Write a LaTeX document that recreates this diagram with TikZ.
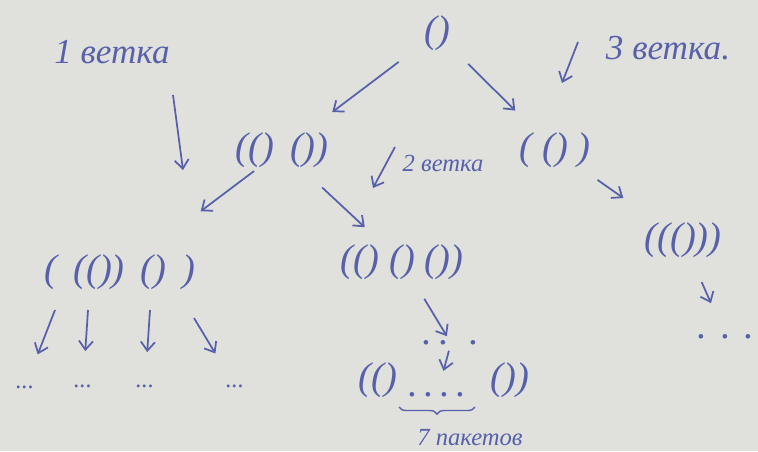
\documentclass[tikz,border=0pt]{standalone}
\usepackage{fontspec}
\setmainfont{Liberation Serif}
\usetikzlibrary{arrows.meta,decorations.pathreplacing}
\definecolor{ink}{RGB}{88,96,170}
\definecolor{paper}{RGB}{224,225,221}
\tikzset{
  every node/.style={text=ink,font=\itshape},
  br/.style={font=\fontsize{22}{24}\selectfont\itshape},
  dt/.style={font=\fontsize{14}{16}\selectfont\itshape},
  arr/.style={->,draw=ink,line width=1pt,>={Straight Barb[length=5pt,width=8pt]}},
}

\begin{document}
\begin{tikzpicture}
    \def\x{0.02}
    \def\y{-0.02}
    \useasboundingbox (0,0) rectangle (758*\x,451*\y);
    \fill[paper] (0,0) rectangle (758*\x,451*\y);
    \node[br] (A0_0) at (437*\x, 33*\y) {()};
    \node[br] (A1_1) at (282*\x, 150*\y) {(() \,())};
    \node[br] (A1_2) at (555*\x, 150*\y) {( () )};
    \node[br] (A2_1) at (120*\x, 272*\y) {( \,(()) \,() \,)};
    \node[br] (A2_2) at (402*\x, 262*\y) {(() () ())};
    \node[br] (A2_3) at (683*\x, 240*\y) {((()))};
    \node[dt] (A3_1) at (25*\x, 387*\y) {...};
    \node[dt] (A3_2) at (83*\x, 386*\y) {...};
    \node[dt] (A3_3) at (145*\x, 386*\y) {...};
    \node[dt] (A3_4) at (235*\x, 386*\y) {...};
    \node[br] (A3_5) at (451*\x, 343*\y) {.\hspace{4pt}.\hspace{12pt}.};
    \node[br] (A3_6) at (726*\x, 337*\y) {.\hspace{8pt}.\hspace{8pt}.};
    \node[br] (A4_1) at (378*\x, 380*\y) {(()};
    \node[br,minimum width=75*0.02cm] (A4_2) at (437*\x, 395*\y) {.\,.\,.\,.};
    \node[br] (A4_3) at (510*\x, 380*\y) {())};
    \node[font=\fontsize{14}{16}\selectfont\itshape] (A5_1) at (470*\x, 438*\y) {7 пакетов};
    % branch labels
    \node[font=\fontsize{20}{22}\selectfont\itshape] (L1) at (112*\x, 52*\y) {1 ветка};
    \node[font=\fontsize{14}{16}\selectfont\itshape] (L2) at (443*\x, 163*\y) {2 ветка};
    \node[font=\fontsize{20}{22}\selectfont\itshape] (L3) at (668*\x, 48*\y) {3 ветка.};
    \coordinate (C1_0) at (173*\x, 95*\y);
    \coordinate (C1_1) at (183*\x, 170*\y);
    \coordinate (C2_0) at (395*\x, 147*\y);
    \coordinate (C2_1) at (373*\x, 188*\y);
    \coordinate (C3_0) at (578*\x, 42*\y);
    \coordinate (C3_1) at (562*\x, 83*\y);
    \coordinate (T1) at (55*\x, 310*\y);
    \coordinate (T2) at (88*\x, 310*\y);
    \coordinate (T3) at (150*\x, 310*\y);
    \coordinate (T4) at (194*\x, 318*\y);
    \path (A0_0.center) edge [arr,shorten <=0.96cm,shorten >=1.26cm] (A1_1.center);
    \path (A0_0.center) edge [arr,shorten <=0.88cm,shorten >=1.12cm] (A1_2.center);
    \path (A1_1.center) edge [arr,shorten <=0.7cm,shorten >=2.02cm] (A2_1.center);
    \path (A1_1.center) edge [arr,shorten <=1.1cm,shorten >=1.02cm] (A2_2.center);
    \path (A1_2.center) edge [arr,shorten <=1.04cm,shorten >=1.46cm] (A2_3.center);
    \path (A2_3.center) edge [arr,shorten <=0.92cm,shorten >=0.74cm] (A3_6.center);
    \path (A2_2.center) edge [arr,shorten <=0.86cm,shorten >=0.16cm] (A3_5.center);
    \path (A3_5.center) edge [arr,shorten <=0.16cm,shorten >=0.5cm] (A4_2.center);
    \path (T1) edge [arr,shorten >=0.7cm] (A3_1.center);
    \path (T2) edge [arr,shorten >=0.7cm] (A3_2.center);
    \path (T3) edge [arr,shorten >=0.68cm] (A3_3.center);
    \path (T4) edge [arr,shorten >=0.76cm] (A3_4.center);
    \path (C1_0) edge [arr] (C1_1);
    \path (C2_0) edge [arr] (C2_1);
    \path (C3_0) edge [arr] (C3_1);
    \draw[ink,line width=0.8pt,decorate,decoration={brace,mirror,amplitude=4pt}]
      ([yshift=-2pt]A4_2.south west) -- ([yshift=-2pt]A4_2.south east);
\end{tikzpicture}
\end{document}
